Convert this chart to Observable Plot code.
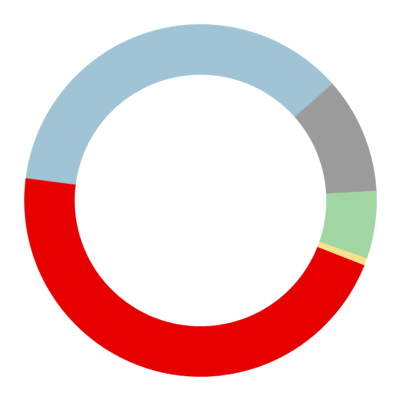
<!DOCTYPE html>
<html>
<head>
<meta charset="utf-8">
<script src="https://cdn.jsdelivr.net/npm/d3@7"></script>
<script src="https://cdn.jsdelivr.net/npm/@observablehq/plot@0.6"></script>
<style>
  html, body { margin: 0; padding: 0; background: #fff; }
</style>
</head>
<body>
<div id="chart"></div>
<script>
// Data (shares in percent), drawn clockwise in this order
const categories = ["Party A", "Party B", "Party C", "Party D", "Party E"];
const values = [46.1, 36.4, 10.7, 6.2, 0.6];
const colors = ["#e60000", "#9ec4d6", "#9b9b9b", "#a1d6a3", "#fde08c"];

const startDeg = 111.5;
const outerR = 0.88, innerR = 0.63;

const pie = d3.pie().sort(null).value(d => d.value)
  .startAngle(startDeg * Math.PI / 180)
  .endAngle(startDeg * Math.PI / 180 + 2 * Math.PI);
const arcs = pie(categories.map((name, i) => ({name, value: values[i]})));

const pts = [];
for (const a of arcs) {
  const n = Math.max(4, Math.ceil((a.endAngle - a.startAngle) / 0.01));
  for (let k = 0; k <= n; k++) {
    const t = a.startAngle + (a.endAngle - a.startAngle) * k / n;
    pts.push({name: a.data.name, x: outerR * Math.sin(t), y: outerR * Math.cos(t)});
  }
  for (let k = n; k >= 0; k--) {
    const t = a.startAngle + (a.endAngle - a.startAngle) * k / n;
    pts.push({name: a.data.name, x: innerR * Math.sin(t), y: innerR * Math.cos(t)});
  }
}

const chart = Plot.plot({
  width: 400,
  height: 400,
  margin: 0,
  x: {domain: [-1, 1], axis: null},
  y: {domain: [-1, 1], axis: null},
  color: {type: "ordinal", domain: categories, range: colors},
  marks: [
    Plot.line(pts, {
      x: "x", y: "y", z: "name",
      fill: "name", stroke: "name", strokeWidth: 0.5,
      curve: "linear-closed"
    })
  ]
});
document.getElementById("chart").appendChild(chart);
</script>
</body>
</html>
